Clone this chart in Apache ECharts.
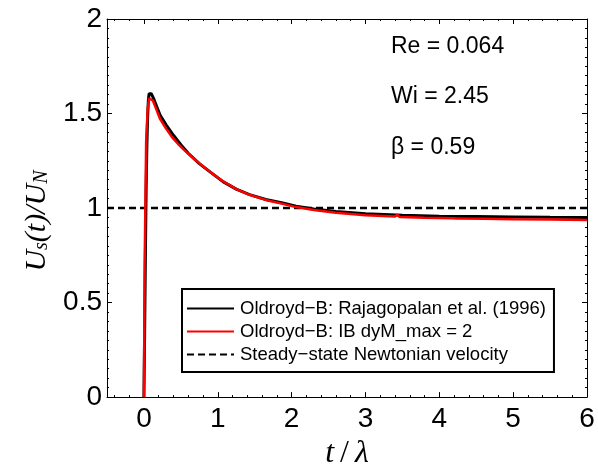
<!DOCTYPE html>
<html>
<head>
<meta charset="utf-8">
<script src="https://cdn.jsdelivr.net/npm/echarts@6/dist/echarts.min.js"></script>
<style>html,body{margin:0;padding:0;background:#fff;}#c{width:598px;height:475px;}</style>
</head>
<body>
<div id="c"></div>
<script>
// ---- data ----
var tBlack = [0, 0.01, 0.02, 0.03, 0.04, 0.05, 0.06, 0.07, 0.08, 0.1, 0.13, 0.17, 0.22, 0.3, 0.4, 0.5, 0.6, 0.75, 0.9, 1.07, 1.25, 1.43, 1.65, 1.88, 2.06, 2.3, 2.6, 3.0, 3.5, 4.0, 4.5, 5.0, 5.5, 6.0];
var uBlack = [0, 0.35, 0.75, 1.1, 1.33, 1.48, 1.57, 1.605, 1.615, 1.605, 1.58, 1.54, 1.49, 1.44, 1.385, 1.335, 1.29, 1.235, 1.19, 1.14, 1.1, 1.071, 1.045, 1.027, 1.01, 0.995, 0.982, 0.97, 0.962, 0.957, 0.955, 0.953, 0.951, 0.95];
var tRed = [0, 0.01, 0.03, 0.05, 0.07, 0.09, 0.12, 0.16, 0.22, 0.3, 0.38, 0.46, 0.55, 0.65, 0.75, 0.9, 1.07, 1.25, 1.43, 1.65, 1.88, 2.06, 2.3, 2.6, 3.0, 3.4, 3.43, 3.46, 3.8, 4.18, 4.2, 4.23, 4.6, 5.0, 5.5, 6.0];
var uRed = [0, 0.7, 1.35, 1.52, 1.58, 1.59, 1.57, 1.53, 1.47, 1.42, 1.375, 1.34, 1.305, 1.27, 1.237, 1.19, 1.142, 1.1, 1.07, 1.043, 1.022, 1.005, 0.99, 0.975, 0.962, 0.955, 0.965, 0.953, 0.949, 0.946, 0.955, 0.945, 0.943, 0.941, 0.939, 0.937];
var tSteady = [-0.5, 6];
var uSteady = [1, 1];
var xTicks = [0, 1, 2, 3, 4, 5, 6];
var xMinorTicks = [-0.4, -0.2, 0.2, 0.4, 0.6, 0.8, 1.2, 1.4, 1.6, 1.8, 2.2, 2.4, 2.6, 2.8, 3.2, 3.4, 3.6, 3.8, 4.2, 4.4, 4.6, 4.8, 5.2, 5.4, 5.6, 5.8];
var seriesNames = ['Oldroyd\u2212B: Rajagopalan et al. (1996)', 'Oldroyd\u2212B: IB dyM_max = 2', 'Steady\u2212state Newtonian velocity'];
var annotations = ['Re = 0.064', 'Wi = 2.45', '\u03b2 = 0.59'];

function pairs(xs, ys) { return xs.map(function (x, i) { return [x, ys[i]]; }); }

var chart = echarts.init(document.getElementById('c'), null, { renderer: 'canvas' });
var SANS = 'Liberation Sans, Arial, sans-serif';
var SERIF = 'Liberation Serif, Times New Roman, serif';
var black = '#000';

function isInt(v) { return Math.abs(v - Math.round(v)) < 1e-6; }

function xMajor(pos, labels) {
  return {
    type: 'value', min: -0.5, max: 6, splitNumber: 7, position: pos, gridIndex: 0,
    axisLine: { show: true, onZero: false, lineStyle: { color: black, width: 1 } },
    axisTick: { show: true, inside: true, length: 5, customValues: xTicks, lineStyle: { color: black, width: 1 } },
    axisLabel: labels ? {
      show: true, fontSize: 28, color: black, fontFamily: SANS, margin: 8, customValues: xTicks,
      formatter: function (v) { return isInt(v) ? String(Math.round(v)) : ''; }
    } : { show: false, customValues: xTicks },
    splitLine: { show: false }
  };
}
function xMinor(pos) {
  return {
    type: 'value', min: -0.5, max: 6, position: pos, gridIndex: 0,
    axisLine: { show: false, onZero: false },
    axisTick: { show: true, inside: true, length: 2, customValues: xMinorTicks, lineStyle: { color: black, width: 1 } },
    axisLabel: { show: false, customValues: xMinorTicks },
    splitLine: { show: false }
  };
}
function yAx(pos, labels) {
  return {
    type: 'value', min: 0, max: 2, interval: 0.5, position: pos,
    axisLine: { show: true, onZero: false, lineStyle: { color: black, width: 1 } },
    axisTick: { show: true, inside: true, length: 5, lineStyle: { color: black } },
    minorTick: { show: true, splitNumber: 10, length: 2, lineStyle: { color: black } },
    axisLabel: labels ? { fontSize: 28, color: black, fontFamily: SANS, margin: 5 } : { show: false },
    splitLine: { show: false }
  };
}

var yLeft = yAx('left', true);
yLeft.name = '{i|U}{s|s}{i|(t)/U}{s|N}';
yLeft.nameLocation = 'middle';
yLeft.nameGap = 55;
yLeft.nameRotate = 90;
yLeft.nameTextStyle = {
  padding: [0, 26, 0, 0],
  rich: {
    i: { fontFamily: SERIF, fontStyle: 'italic', fontSize: 30, lineHeight: 30, color: black },
    s: { fontFamily: SERIF, fontStyle: 'italic', fontSize: 20, lineHeight: 12, verticalAlign: 'bottom', color: black }
  }
};

var xMain = xMajor('bottom', true);
xMain.name = '{i|t}{r|/}{i|\u03bb}';
xMain.nameLocation = 'middle';
xMain.nameGap = 40;
xMain.nameTextStyle = {
  rich: {
    i: { fontFamily: SERIF, fontStyle: 'italic', fontSize: 32, color: black },
    r: { fontFamily: SERIF, fontSize: 32, color: black, padding: [0, 6, 0, 6] }
  }
};

var option = {
  backgroundColor: '#fff',
  animation: false,
  grid: { left: 107, right: 11, top: 19, bottom: 70, containLabel: false },
  xAxis: [xMain, xMinor('bottom'), xMajor('top', false), xMinor('top')],
  yAxis: [yLeft, yAx('right', false)],
  legend: {
    left: 182, top: 289, orient: 'vertical',
    data: seriesNames,
    itemWidth: 47, itemHeight: 14, itemGap: 4,
    padding: [10, 8, 8, 4],
    borderColor: black, borderWidth: 2, backgroundColor: '#fff',
    itemStyle: { opacity: 0 },
    textStyle: { fontFamily: SANS, fontSize: 18.5, color: black, padding: [0, 0, 0, 1] }
  },
  graphic: annotations.map(function (txt, i) {
    return {
      type: 'text', left: 391, top: [35, 85, 136][i],
      style: { text: txt, fontFamily: SANS, fontSize: 23, fill: black }
    };
  }),
  series: [
    {
      name: seriesNames[0], type: 'line', xAxisIndex: 0, yAxisIndex: 0,
      data: pairs(tBlack, uBlack), symbol: 'none', z: 3,
      lineStyle: { color: black, width: 3 }, itemStyle: { color: black }
    },
    {
      name: seriesNames[1], type: 'line', xAxisIndex: 0, yAxisIndex: 0,
      data: pairs(tRed, uRed), symbol: 'none', z: 4,
      lineStyle: { color: '#ff0000', width: 2.5 }, itemStyle: { color: '#ff0000' }
    },
    {
      name: seriesNames[2], type: 'line', xAxisIndex: 0, yAxisIndex: 0,
      data: pairs(tSteady, uSteady), symbol: 'none', z: 2,
      lineStyle: { color: black, width: 2.5, type: [7, 4] }, itemStyle: { color: black }
    }
  ]
};
chart.setOption(option);
</script>
</body>
</html>
